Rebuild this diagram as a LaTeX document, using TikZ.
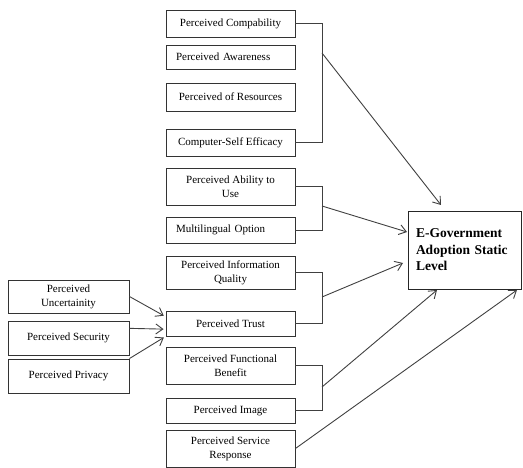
\documentclass[tikz,border=0pt]{standalone}
\usepackage{fontspec}
\setmainfont{Liberation Serif}
\usetikzlibrary{arrows.meta}

\newcommand{\midx}{230.5}
\newcommand{\lftx}{68.5}
\newcommand{\spx}{322}
\tikzset{
    pbox/.style={draw=black!80, line width=0.9pt, minimum width=129pt, inner sep=1pt,
        align=center, font=\fontsize{11}{14}\selectfont},
    lbox/.style={pbox, minimum width=121pt},
    leftbox/.style={pbox, text width=109pt, align=left},
    gbox/.style={draw=black!85, line width=0.9pt, minimum width=113pt, minimum height=78pt,
        text width=97pt, inner sep=1pt, align=left,
        font=\bfseries\fontsize{13.5}{16.5}\selectfont},
    link/.style={draw=black!75, line width=0.9pt},
    arr/.style={link, -{Straight Barb[length=7pt,width=10pt]}},
}
\newcommand{\pbn}{\node[pbox]}
\newcommand{\lbn}{\node[lbox]}

\begin{document}
\begin{tikzpicture}[x=1pt, y=-1pt]
    \useasboundingbox (0,0) rectangle (523,468);

    % middle column
    \pbn[minimum height=27pt] (comp) at (\midx, 23.5) {Perceived Compability};
    \node[leftbox, minimum height=24pt] (aware) at (\midx, 57) {Perceived Awareness};
    \pbn[minimum height=28pt] (res) at (\midx, 97) {Perceived of Resources};
    \pbn[minimum height=27pt] (eff) at (\midx, 142.5) {Computer-Self Efficacy};
    \pbn[minimum height=37pt] (abil) at (\midx, 186.5) {Perceived Ability to\\Use};
    \node[leftbox, minimum height=26pt] (multi) at (\midx, 230) {Multilingual Option};
    \pbn[minimum height=33pt] (infoq) at (\midx, 272.5) {Perceived Information\\Quality};
    \pbn[minimum height=25pt] (trust) at (\midx, 323.5) {Perceived Trust};
    \pbn[minimum height=37pt] (funcb) at (\midx, 365.5) {Perceived Functional\\Benefit};
    \pbn[minimum height=25pt] (image) at (\midx, 410.5) {Perceived Image};
    \pbn[minimum height=37pt] (serv) at (\midx, 448.5) {Perceived Service\\Response};

    % left column
    \lbn[minimum height=33pt] (uncert) at (\lftx, 296.5) {Perceived\\Uncertainity};
    \lbn[minimum height=34pt] (secur) at (\lftx, 338) {Perceived Security};
    \lbn[minimum height=34pt] (priv) at (\lftx, 376) {Perceived Privacy};

    % target
    \node[gbox] (egov) at (464.5, 250)
        {E-Government\\\makebox[97pt][s]{Adoption Static}\\Level};

    % bracket spines and arrow ends
    \coordinate (sp) at (\spx, 0);
    \coordinate (s1) at (\spx, 53);
    \coordinate (s2) at (\spx, 206);
    \coordinate (s3) at (\spx, 297);
    \coordinate (s4) at (\spx, 387);
    \coordinate (t1) at (441, 205);
    \coordinate (t2) at (407, 232);
    \coordinate (t3) at (403, 263);
    \coordinate (t4) at (437, 290);
    \coordinate (t5) at (517, 290);

    \draw[link]
        (comp.east) -- (comp.east -| sp) -- (eff.east -| sp) -- (eff.east)
        (abil.east) -- (abil.east -| sp) -- (multi.east -| sp) -- (multi.east)
        (infoq.east) -- (infoq.east -| sp) -- (trust.east -| sp) -- (trust.east)
        (funcb.east) -- (funcb.east -| sp) -- (image.east -| sp) -- (image.east)
        ;

    \draw[arr] (s1) -- (t1);
    \draw[arr] (s2) -- (t2);
    \draw[arr] (s3) -- (t3);
    \draw[arr] (s4) -- (t4);
    \draw[arr] (serv.east) -- (t5);

    \draw[arr, shorten >=2pt] (uncert.east) -- (trust.174);
    \draw[arr, shorten >=2pt] (secur.9) -- (trust.185);
    \draw[arr, shorten >=2pt] (priv.north east) -- (trust.south west);
\end{tikzpicture}
\end{document}
